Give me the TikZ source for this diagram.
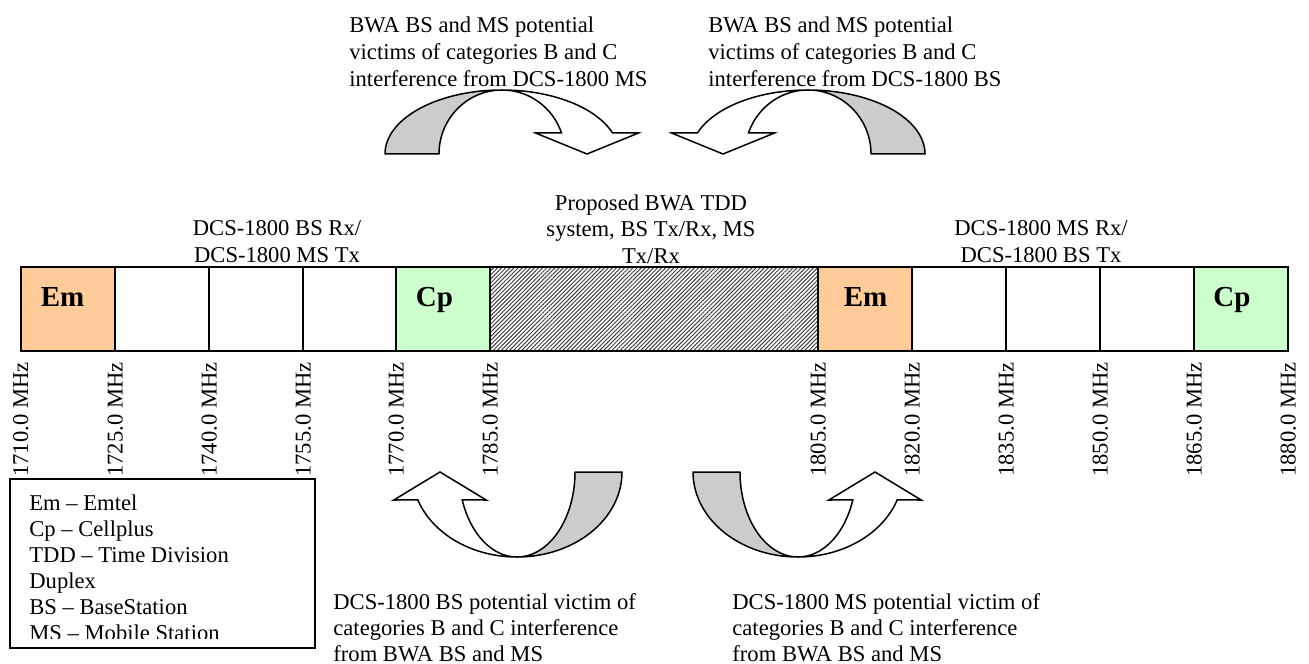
\documentclass[tikz,border=0pt]{standalone}
\usepackage{fontspec}
\setmainfont{Liberation Serif}
\usetikzlibrary{patterns.meta}
\definecolor{emc}{HTML}{FFCC99}
\definecolor{cpc}{HTML}{CCFFCC}
\definecolor{arrgray}{HTML}{CCCCCC}
\begin{document}
\begin{tikzpicture}[x=0.5pt,y=-0.5pt,
  txt/.style={inner sep=0pt,font=\fontsize{11.3}{13.2}\selectfont,anchor=base west},
  txtc/.style={txt,anchor=base},
  freq/.style={inner sep=0pt,font=\fontsize{11.3}{13.2}\selectfont,rotate=90,anchor=base east},
  abbr/.style={inner sep=0pt,font=\bfseries\fontsize{14.5}{17}\selectfont,anchor=base},
  bandline/.style={line width=1pt},
  arrback/.style={fill=arrgray,draw=black,line width=0.75pt,line join=round},
  arrfront/.style={fill=white,draw=black,line width=0.75pt,line join=miter},
  legendbox/.style={draw=black,line width=0.75pt}]
\useasboundingbox (0,0) rectangle (1309,663);

% ---------- band ----------
\fill[emc] (21,267) rectangle (115,351);
\fill[cpc] (396,267) rectangle (490,351);
\fill[emc] (818,267) rectangle (912,351);
\fill[cpc] (1194,267) rectangle (1288,351);
\fill[white] (490,267) rectangle (818,351);
\pattern[pattern={Lines[angle=45,distance=1.45pt,line width=0.5pt]},pattern color=black!75] (490,267) rectangle (818,351);
\draw[bandline] (21,267) rectangle (1288,351);
\foreach \b in {115,209,303,396,490,818,912,1006,1100,1194}
  \draw[bandline] (\b,267) -- (\b,351);

\node[abbr] (em1) at (62.5,306) {Em};
\node[abbr] (cp1) at (434.5,306) {Cp};
\node[abbr] (em2) at (865.5,306) {Em};
\node[abbr] (cp2) at (1232,306) {Cp};

% ---------- frequency labels ----------
\node[freq] (f1710) at (28,362) {1710.0 MHz};
\node[freq] (f1725) at (122.5,362) {1725.0 MHz};
\node[freq] (f1740) at (216.5,362) {1740.0 MHz};
\node[freq] (f1755) at (310.5,362) {1755.0 MHz};
\node[freq] (f1770) at (403.5,362) {1770.0 MHz};
\node[freq] (f1785) at (497.5,362) {1785.0 MHz};
\node[freq] (f1805) at (825.5,362) {1805.0 MHz};
\node[freq] (f1820) at (919.5,362) {1820.0 MHz};
\node[freq] (f1835) at (1013.5,362) {1835.0 MHz};
\node[freq] (f1850) at (1107.5,362) {1850.0 MHz};
\node[freq] (f1865) at (1201.5,362) {1865.0 MHz};
\node[freq] (f1880) at (1295.5,362) {1880.0 MHz};

% ---------- band headings ----------
\node[txtc] (lh1) at (277,235) {DCS-1800 BS Rx/};
\node[txtc] (lh2) at (277,262) {DCS-1800 MS Tx};
\node[txtc] (mh1) at (651,210) {Proposed BWA TDD};
\node[txtc] (mh2) at (651,236.5) {system, BS Tx/Rx, MS};
\node[txtc] (mh3) at (651,263) {Tx/Rx};
\node[txtc] (rh1) at (1041,235) {DCS-1800 MS Rx/};
\node[txtc] (rh2) at (1041,262) {DCS-1800 BS Tx};

% ---------- top texts ----------
\node[txt] (tl1) at (349,33) {BWA BS and MS potential};
\node[txt] (tl2) at (349,59.7) {victims of categories B and C};
\node[txt] (tl3) at (349,86.3) {interference from DCS-1800 MS};
\node[txt] (tr1) at (708,33) {BWA BS and MS potential};
\node[txt] (tr2) at (708,59.7) {victims of categories B and C};
\node[txt] (tr3) at (708,86.3) {interference from DCS-1800 BS};

% ---------- bottom texts ----------
\node[txt] (bl1) at (333,609) {DCS-1800 BS potential victim of};
\node[txt] (bl2) at (333,635) {categories B and C interference};
\node[txt] (bl3) at (333,661) {from BWA BS and MS};
\node[txt] (br1) at (732,609) {DCS-1800 MS potential victim of};
\node[txt] (br2) at (732,635) {categories B and C interference};
\node[txt] (br3) at (732,661) {from BWA BS and MS};

% ---------- curved arrows ----------
% top-left
\path[arrback] plot[domain=180:90,samples=50] ({502+117*cos(\x)},{154-64*sin(\x)})
  -- plot[domain=90:180,samples=50] ({502+63*cos(\x)},{154-64*sin(\x)}) -- cycle;
\path[arrfront] plot[domain=90:19.2,samples=50] ({502+117*cos(\x)},{154-64*sin(\x)})
  -- (638.5,133) -- (587,154) -- (535.5,133)
  -- plot[domain=19.2:90,samples=50] ({502+63*cos(\x)},{154-64*sin(\x)}) -- cycle;
% top-right
\path[arrback] plot[domain=0:90,samples=50] ({808+117*cos(\x)},{154-64*sin(\x)})
  -- plot[domain=90:0,samples=50] ({808+63*cos(\x)},{154-64*sin(\x)}) -- cycle;
\path[arrfront] plot[domain=90:160.8,samples=50] ({808+117*cos(\x)},{154-64*sin(\x)})
  -- (671.5,133) -- (723,154) -- (774.5,133)
  -- plot[domain=160.8:90,samples=50] ({808+63*cos(\x)},{154-64*sin(\x)}) -- cycle;
% bottom-left
\path[arrback] plot[domain=0:90,samples=50] ({517+105*cos(\x)},{472+85*sin(\x)})
  -- plot[domain=90:0,samples=50] ({517+58*cos(\x)},{472+85*sin(\x)}) -- cycle;
\path[arrfront] plot[domain=90:160.8,samples=50] ({517+105*cos(\x)},{472+85*sin(\x)})
  -- (393.8,500) -- (440,472) -- (486.2,500)
  -- plot[domain=160.8:90,samples=50] ({517+58*cos(\x)},{472+85*sin(\x)}) -- cycle;
% bottom-right
\path[arrback] plot[domain=180:90,samples=50] ({798+105*cos(\x)},{472+85*sin(\x)})
  -- plot[domain=90:180,samples=50] ({798+58*cos(\x)},{472+85*sin(\x)}) -- cycle;
\path[arrfront] plot[domain=90:19.2,samples=50] ({798+105*cos(\x)},{472+85*sin(\x)})
  -- (921.2,500) -- (875,472) -- (828.8,500)
  -- plot[domain=19.2:90,samples=50] ({798+58*cos(\x)},{472+85*sin(\x)}) -- cycle;

% ---------- legend ----------
\draw[legendbox] (10,479) rectangle (315,648);
\begin{scope}
  \clip (10,479) rectangle (315,638);
  \node[txt] (lg1) at (29,510) {Em – Emtel};
  \node[txt] (lg2) at (29,536) {Cp – Cellplus};
  \node[txt] (lg3) at (29,562) {TDD – Time Division};
  \node[txt] (lg4) at (29,588) {Duplex};
  \node[txt] (lg5) at (29,614) {BS – BaseStation};
  \node[txt] (lg6) at (29,640) {MS – Mobile Station};
\end{scope}
\end{tikzpicture}
\end{document}
